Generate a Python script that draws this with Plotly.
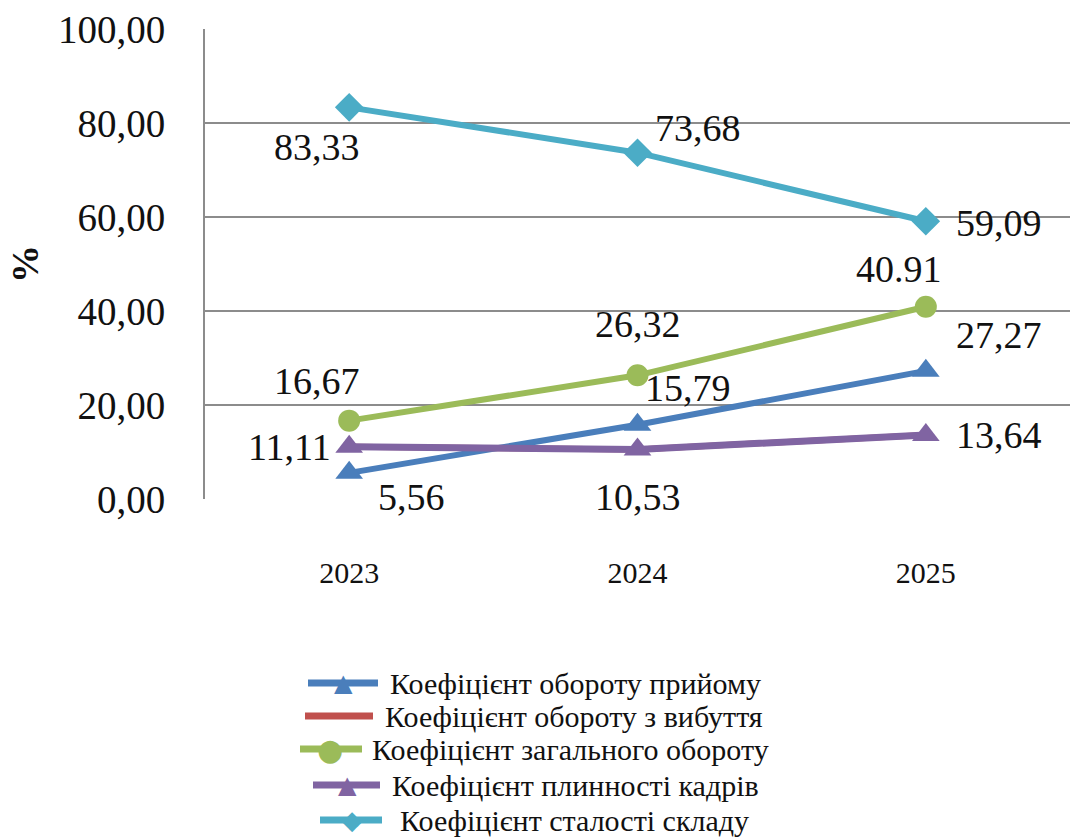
import plotly.graph_objects as go

years = ["2023", "2024", "2025"]
names = [
    "Коефіцієнт обороту прийому",
    "Коефіцієнт обороту з вибуття",
    "Коефіцієнт загального обороту",
    "Коефіцієнт плинності кадрів",
    "Коефіцієнт сталості складу",
]
priyom = [5.56, 15.79, 27.27]
vybuttya = [11.11, 10.53, 13.64]
zagalny = [16.67, 26.32, 40.91]
plynnist = [11.11, 10.53, 13.64]
stalist = [83.33, 73.68, 59.09]

priyom_lbl = ["5,56", "15,79", "27,27"]
zagalny_lbl = ["16,67", "26,32", "40.91"]
plynnist_lbl = ["11,11", "10,53", "13,64"]
stalist_lbl = ["83,33", "73,68", "59,09"]

y_ticks = [0, 20, 40, 60, 80, 100]
y_ticktext = ["0,00", "20,00", "40,00", "60,00", "80,00", "100,00"]

FONT = "Liberation Serif, Times New Roman, serif"
BLUE, RED, GREEN, PURPLE, CYAN = "#4a7ebb", "#c0504d", "#9bbb59", "#8064a2", "#4bacc6"

W, H = 1076, 837
L, R, T, B = 205, 6, 29, 338
PW, PH = W - L - R, H - T - B


def px_to_paper(px, py):
    return (px - L) / PW, (H - B - py) / PH


fig = go.Figure()
fig.add_trace(go.Scatter(x=years, y=priyom, name=names[0], mode="lines+markers",
                         line=dict(color=BLUE, width=6),
                         marker=dict(symbol="triangle-up", size=24, color=BLUE)))
fig.add_trace(go.Scatter(x=years, y=vybuttya, name=names[1], mode="lines",
                         line=dict(color=RED, width=6)))
fig.add_trace(go.Scatter(x=years, y=zagalny, name=names[2], mode="lines+markers",
                         line=dict(color=GREEN, width=6),
                         marker=dict(symbol="circle", size=22, color=GREEN)))
fig.add_trace(go.Scatter(x=years, y=plynnist, name=names[3], mode="lines+markers",
                         line=dict(color=PURPLE, width=7),
                         marker=dict(symbol="triangle-up", size=24, color=PURPLE)))
fig.add_trace(go.Scatter(x=years, y=stalist, name=names[4], mode="lines+markers",
                         line=dict(color=CYAN, width=6),
                         marker=dict(symbol="diamond", size=22, color=CYAN)))

# data labels: offsets (px) per point
label_specs = [
    (priyom, priyom_lbl, [(62, -24), (50, 37), (73, 36)]),
    (zagalny, zagalny_lbl, [(-32, 40), (0, 51), (-27, 38)]),
    (plynnist, plynnist_lbl, [(-60, 0), (0, -47), (73, 0)]),
    (stalist, stalist_lbl, [(-32, -40), (60, 25), (73, -2)]),
]
for vals, lbls, offs in label_specs:
    for i, (v, t, (dx, dy)) in enumerate(zip(vals, lbls, offs)):
        fig.add_annotation(x=i, y=v, xref="x", yref="y", text=t, showarrow=False,
                           xshift=dx, yshift=dy,
                           font=dict(family=FONT, size=38, color="#111"))

# manual legend (rows tightly spaced like the reference)
legend_rows = [
    # name, color, line x0, line x1, marker glyph, marker x, text x, row y
    (names[0], BLUE, 308, 378, "▲", 343, 388, 683, 24),
    (names[1], RED, 305, 373, None, None, 383, 716, 0),
    (names[2], GREEN, 300, 362, "●", 330, 370, 749, 30),
    (names[3], PURPLE, 313, 380, "▲", 347, 390, 785, 24),
    (names[4], CYAN, 320, 382, "◆", 352, 398, 820, 26),
]
for name, col, x0, x1, glyph, mx, tx, ry, gs in legend_rows:
    a0, b0 = px_to_paper(x0, ry)
    a1, _ = px_to_paper(x1, ry)
    fig.add_shape(type="line", xref="paper", yref="paper", x0=a0, x1=a1, y0=b0, y1=b0,
                  line=dict(color=col, width=7))
    if glyph:
        gx, gy = px_to_paper(mx, ry)
        fig.add_annotation(xref="paper", yref="paper", x=gx, y=gy, text=glyph,
                           showarrow=False, xanchor="center", yanchor="middle",
                           font=dict(family="DejaVu Sans", size=gs, color=col))
    ttx, tty = px_to_paper(tx, ry)
    fig.add_annotation(xref="paper", yref="paper", x=ttx, y=tty, text=name,
                       showarrow=False, xanchor="left", yanchor="middle",
                       font=dict(family=FONT, size=30, color="#111"))

fig.update_layout(
    width=W, height=H,
    margin=dict(l=L, r=R, t=T, b=B),
    plot_bgcolor="white", paper_bgcolor="white",
    font=dict(family=FONT, color="#111"),
    showlegend=False,
)
fig.update_xaxes(
    type="category", range=[-0.5, 2.5], showgrid=False, zeroline=False,
    showline=False, ticks="outside", ticklen=47, tickcolor="rgba(0,0,0,0)",
    tickfont=dict(family=FONT, size=30, color="#111"),
)
fig.update_yaxes(
    range=[0, 100], tickvals=y_ticks, ticktext=y_ticktext,
    showgrid=True, gridcolor="#8c8c8c", gridwidth=2, zeroline=False,
    showline=True, linecolor="#8c8c8c", linewidth=2,
    ticks="outside", ticklen=30, tickcolor="rgba(0,0,0,0)",
    tickfont=dict(family=FONT, size=39, color="#111"),
    title=dict(text="<b>%</b>", font=dict(family=FONT, size=38, color="#111"), standoff=8),
)
fig.write_html("out.html")
